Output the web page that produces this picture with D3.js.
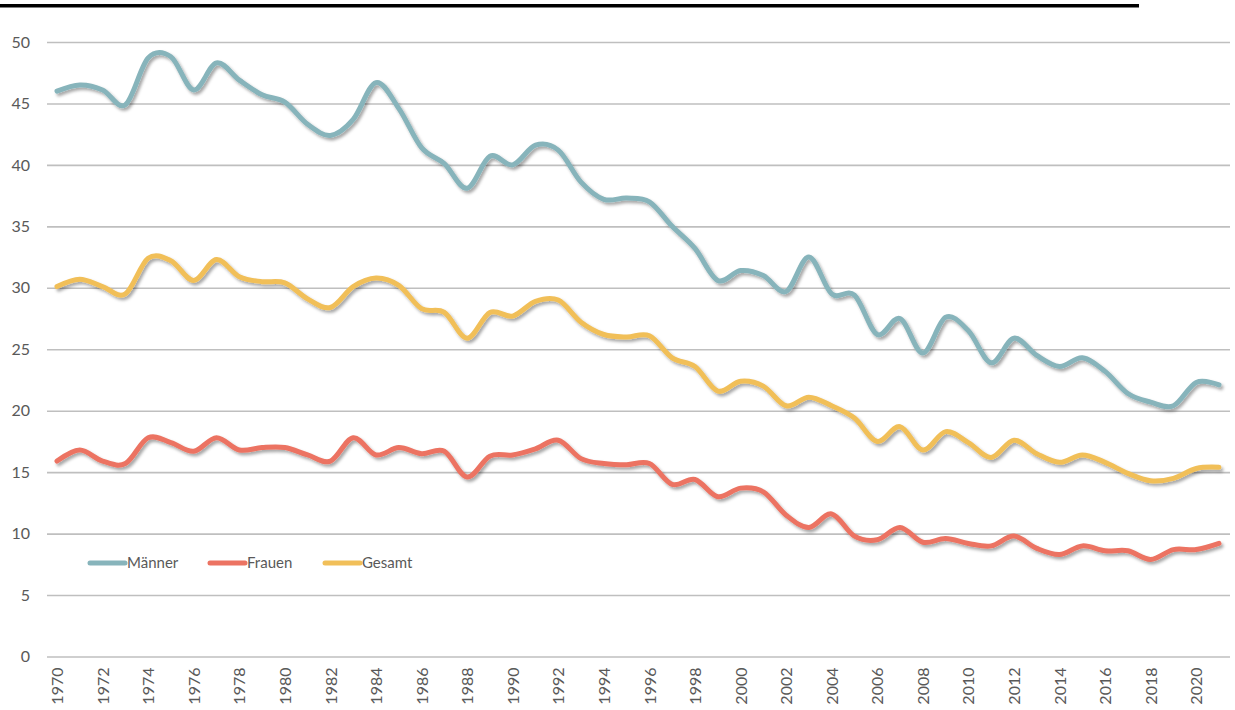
<!DOCTYPE html>
<html>
<head>
<meta charset="utf-8">
<script src="https://cdn.jsdelivr.net/npm/d3@7"></script>
<style>
    body { margin: 0; background: #fff; }
    #chart text { font-family: Lato, "Open Sans", sans-serif; fill: #595959; }
</style>
</head>
<body>
<div id="chart"></div>
<script>
const years = d3.range(1970, 2022);

const maenner = [46.0, 46.5, 46.1, 44.9, 48.7, 48.8, 46.1, 48.3, 46.9, 45.7,
    45.1, 43.3, 42.4, 43.7, 46.7, 44.6, 41.4, 40.1, 38.1, 40.7,
    40.0, 41.6, 41.2, 38.6, 37.2, 37.3, 37.0, 35.0, 33.2, 30.6,
    31.4, 31.0, 29.7, 32.5, 29.5, 29.4, 26.2, 27.5, 24.7, 27.6,
    26.5, 23.9, 25.9, 24.5, 23.6, 24.3, 23.2, 21.4, 20.7, 20.4,
    22.3, 22.1];

const frauen = [15.9, 16.8, 15.9, 15.7, 17.8, 17.4, 16.7, 17.8, 16.8, 17.0,
    17.0, 16.4, 15.9, 17.8, 16.4, 17.0, 16.5, 16.7, 14.6, 16.3,
    16.4, 16.9, 17.6, 16.1, 15.7, 15.6, 15.7, 14.0, 14.4, 13.0,
    13.7, 13.4, 11.5, 10.5, 11.6, 9.8, 9.5, 10.5, 9.3, 9.6,
    9.2, 9.0, 9.8, 8.8, 8.3, 9.0, 8.6, 8.6, 7.9, 8.7,
    8.7, 9.2];

const gesamt = [30.1, 30.7, 30.1, 29.5, 32.4, 32.2, 30.6, 32.3, 30.9, 30.5,
    30.4, 29.1, 28.4, 30.1, 30.8, 30.2, 28.3, 28.0, 25.9, 28.0,
    27.7, 28.9, 29.0, 27.2, 26.2, 26.0, 26.1, 24.3, 23.6, 21.6,
    22.4, 22.0, 20.4, 21.1, 20.4, 19.4, 17.5, 18.7, 16.8, 18.3,
    17.4, 16.2, 17.6, 16.5, 15.8, 16.4, 15.8, 14.9, 14.3, 14.5,
    15.3, 15.4];

const seriesNames = ["Männer", "Frauen", "Gesamt"];
const seriesColors = ["#87b4bb", "#ec7362", "#f1bf59"];
const yTicks = [0, 5, 10, 15, 20, 25, 30, 35, 40, 45, 50];
const xTicks = d3.range(1970, 2021, 2);

const width = 1235;
const height = 710;
const margin = { top: 42, right: 5, bottom: 53, left: 47 };

const svg = d3.select("#chart")
    .append("svg")
    .attr("width", width)
    .attr("height", height);

const defs = svg.append("defs");
defs.append("filter")
    .attr("id", "shadow")
    .attr("x", "-5%").attr("y", "-20%")
    .attr("width", "110%").attr("height", "140%")
    .append("feDropShadow")
    .attr("dx", 2)
    .attr("dy", 2.5)
    .attr("stdDeviation", 1.5)
    .attr("flood-color", "#000")
    .attr("flood-opacity", 0.35);

// black bar at the top
svg.append("rect")
    .attr("x", 0)
    .attr("y", 4)
    .attr("width", 1139)
    .attr("height", 3.5)
    .attr("fill", "#000");

const xScale = d3.scaleLinear()
    .domain([1970, 2021])
    .range([57, 1219]);

const yScale = d3.scaleLinear()
    .domain([0, 50])
    .range([height - margin.bottom - 0.5, margin.top]);

// y axis with gridlines
const yAxis = svg.append("g")
    .attr("transform", `translate(${margin.left}, 0)`)
    .call(d3.axisLeft(yScale)
        .tickValues(yTicks)
        .tickSize(-(width - margin.right - margin.left))
        .tickPadding(17));
yAxis.select(".domain").remove();
yAxis.selectAll(".tick line")
    .attr("stroke", "#bfbfbf")
    .attr("stroke-width", 1.6);
yAxis.selectAll(".tick text")
    .attr("font-size", 16);

// x axis labels, rotated
const xAxis = svg.append("g")
    .attr("transform", `translate(0, ${yScale(0)})`)
    .call(d3.axisBottom(xScale)
        .tickValues(xTicks)
        .tickSize(0)
        .tickFormat(d3.format("d")));
xAxis.select(".domain").remove();
xAxis.selectAll(".tick text")
    .attr("font-size", 16)
    .attr("text-anchor", "end")
    .attr("transform", "rotate(-90)")
    .attr("x", -11)
    .attr("y", 0)
    .attr("dy", "0.35em");

const line = d3.line()
    .x((d, i) => xScale(years[i]))
    .y(d => yScale(d))
    .curve(d3.curveCatmullRom.alpha(0));

const allSeries = [maenner, frauen, gesamt];

svg.selectAll(".series")
    .data(allSeries)
    .enter().append("path")
    .attr("class", "series")
    .attr("d", line)
    .attr("fill", "none")
    .attr("stroke", (d, i) => seriesColors[i])
    .attr("stroke-width", 5)
    .attr("stroke-linecap", "round")
    .attr("stroke-linejoin", "round")
    .attr("filter", "url(#shadow)");

// legend
const legendX = [90, 210, 325];
const legend = svg.selectAll(".legend")
    .data(seriesNames)
    .enter().append("g")
    .attr("class", "legend")
    .attr("transform", (d, i) => `translate(${legendX[i]}, 563)`);

legend.append("line")
    .attr("x1", 0).attr("x2", 35)
    .attr("y1", 0).attr("y2", 0)
    .attr("stroke", (d, i) => seriesColors[i])
    .attr("stroke-width", 5)
    .attr("stroke-linecap", "round");

legend.append("text")
    .attr("x", 37)
    .attr("dy", "0.35em")
    .attr("font-size", 15)
    .text(d => d);
</script>
</body>
</html>
